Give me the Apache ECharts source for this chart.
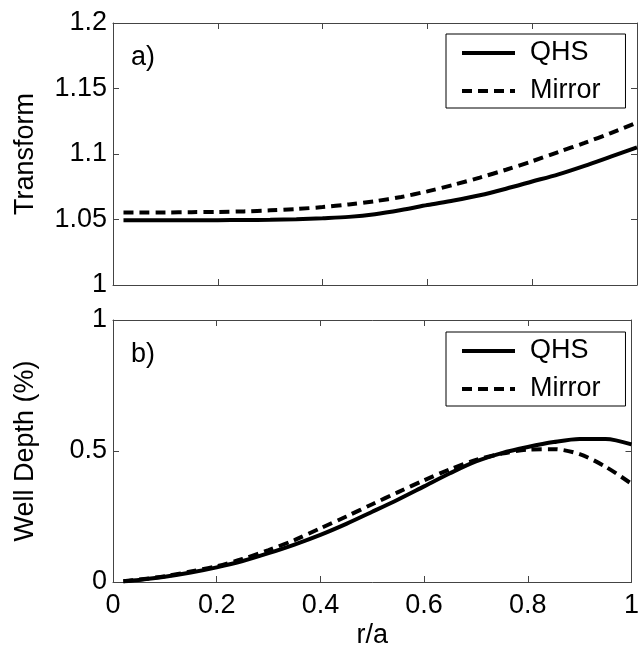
<!DOCTYPE html>
<html>
<head>
<meta charset="utf-8">
<script src="https://cdn.jsdelivr.net/npm/echarts@6/dist/echarts.min.js"></script>
<style>
  html, body { margin: 0; padding: 0; background: #fff; }
  #chart { width: 642px; height: 651px; }
</style>
</head>
<body>
<div id="chart"></div>
<script>
  // r/a sample points
  const ra = [0.02, 0.05, 0.1, 0.15, 0.2, 0.25, 0.3, 0.35, 0.4, 0.45, 0.5,
    0.55, 0.6, 0.65, 0.7, 0.75, 0.8, 0.85, 0.9, 0.95, 1.0]

  // panel a) rotational transform
  const transformQHS = [1.0495, 1.0495, 1.0495, 1.0495, 1.0495, 1.0496, 1.0498, 1.0502, 1.051, 1.052, 1.054,
    1.0572, 1.061, 1.0645, 1.0685, 1.0735, 1.079, 1.0845, 1.091, 1.098, 1.105]
  const transformMirror = [1.0553, 1.0553, 1.0554, 1.0556, 1.0558, 1.0562, 1.0570, 1.058, 1.0595, 1.0615, 1.064,
    1.0672, 1.0715, 1.0765, 1.082, 1.088, 1.0945, 1.1015, 1.1085, 1.116, 1.124]

  // panel b) well depth
  const wellQHS = [0.003, 0.008, 0.02, 0.036, 0.056, 0.08, 0.11, 0.143, 0.18, 0.222, 0.268,
    0.315, 0.365, 0.415, 0.46, 0.492, 0.515, 0.534, 0.546, 0.546, 0.525]
  const wellMirror = [0.003, 0.009, 0.022, 0.04, 0.06, 0.088, 0.122, 0.16, 0.205, 0.25, 0.297,
    0.343, 0.388, 0.43, 0.466, 0.49, 0.505, 0.507, 0.488, 0.44, 0.375]

  const transformTicks = [1, 1.05, 1.1, 1.15, 1.2]
  const wellTicks = [0, 0.5, 1]

  const fontFamily = 'Liberation Sans, Arial, sans-serif'
  const axisColor = '#444'

  const pairs = (ys) => ra.map((x, i) => [x, ys[i]])

  function boxX(gridIndex, position, showLabels) {
    return {
      type: 'value',
      gridIndex,
      position,
      min: 0,
      max: 1,
      interval: 0.2,
      axisLine: { show: true, onZero: false, lineStyle: { color: axisColor, width: 1 } },
      axisTick: { show: true, inside: true, length: 6, lineStyle: { color: axisColor } },
      axisLabel: { show: showLabels, color: '#000', fontSize: 27, margin: 10, fontFamily },
      splitLine: { show: false }
    }
  }

  function boxY(gridIndex, position, min, max, interval, showLabels) {
    return {
      type: 'value',
      gridIndex,
      position,
      min,
      max,
      interval,
      axisLine: { show: true, onZero: false, lineStyle: { color: axisColor, width: 1 } },
      axisTick: { show: true, inside: true, length: 6, lineStyle: { color: axisColor } },
      axisLabel: { show: showLabels, color: '#000', fontSize: 27, margin: 6, fontFamily },
      splitLine: { show: false }
    }
  }

  function curve(name, data, xIdx, yIdx, dashed) {
    return {
      name,
      type: 'line',
      xAxisIndex: xIdx,
      yAxisIndex: yIdx,
      data,
      symbol: 'none',
      smooth: 0.3,
      silent: true,
      lineStyle: { color: '#000', width: 4, type: dashed ? [10, 6] : 'solid' },
      itemStyle: { color: '#000' }
    }
  }

  function legendBox(top) {
    return {
      orient: 'vertical',
      left: 446,
      top,
      data: ['QHS', 'Mirror'],
      itemWidth: 53,
      itemHeight: 14,
      itemGap: 8,
      padding: [4, 25, 2, 14],
      backgroundColor: '#fff',
      borderColor: '#000',
      borderWidth: 1,
      borderRadius: 0,
      selectedMode: false,
      // hide the marker dot, keep the line sample
      itemStyle: { opacity: 0 },
      lineStyle: { width: 4 },
      textStyle: { color: '#000', fontSize: 27, lineHeight: 30, fontFamily, padding: [0, 0, 0, 10] }
    }
  }

  const chart = echarts.init(document.getElementById('chart'), null, { renderer: 'canvas' })

  const yTop = boxY(0, 'left', transformTicks[0], transformTicks[transformTicks.length - 1], 0.05, true)
  yTop.name = 'Transform'
  yTop.nameLocation = 'middle'
  yTop.nameGap = 74
  yTop.nameTextStyle = { color: '#000', fontSize: 27, fontFamily }

  const yBot = boxY(1, 'left', wellTicks[0], wellTicks[wellTicks.length - 1], 0.5, true)
  yBot.name = 'Well Depth (%)'
  yBot.nameLocation = 'middle'
  yBot.nameGap = 74
  yBot.nameTextStyle = { color: '#000', fontSize: 27, fontFamily }

  const xBot = boxX(1, 'bottom', true)
  xBot.name = 'r/a'
  xBot.nameLocation = 'middle'
  xBot.nameGap = 40
  xBot.nameTextStyle = { color: '#000', fontSize: 27, fontFamily }

  chart.setOption({
    animation: false,
    backgroundColor: '#fff',
    textStyle: { fontFamily },
    grid: [
      { left: 113, right: 5, top: 23, height: 262 },
      { left: 113, right: 5, top: 320, height: 262 }
    ],
    xAxis: [
      boxX(0, 'bottom', false),
      boxX(0, 'top', false),
      xBot,
      boxX(1, 'top', false)
    ],
    yAxis: [
      yTop,
      boxY(0, 'right', 1, 1.2, 0.05, false),
      yBot,
      boxY(1, 'right', 0, 1, 0.5, false)
    ],
    legend: [legendBox(34), legendBox(332)],
    graphic: [
      { type: 'text', left: 131, top: 44, style: { text: 'a)', fill: '#000', font: '27px ' + fontFamily } },
      { type: 'text', left: 131, top: 341, style: { text: 'b)', fill: '#000', font: '27px ' + fontFamily } }
    ],
    series: [
      curve('QHS', pairs(transformQHS), 0, 0, false),
      curve('Mirror', pairs(transformMirror), 0, 0, true),
      curve('QHS', pairs(wellQHS), 2, 2, false),
      curve('Mirror', pairs(wellMirror), 2, 2, true)
    ]
  })
</script>
</body>
</html>
